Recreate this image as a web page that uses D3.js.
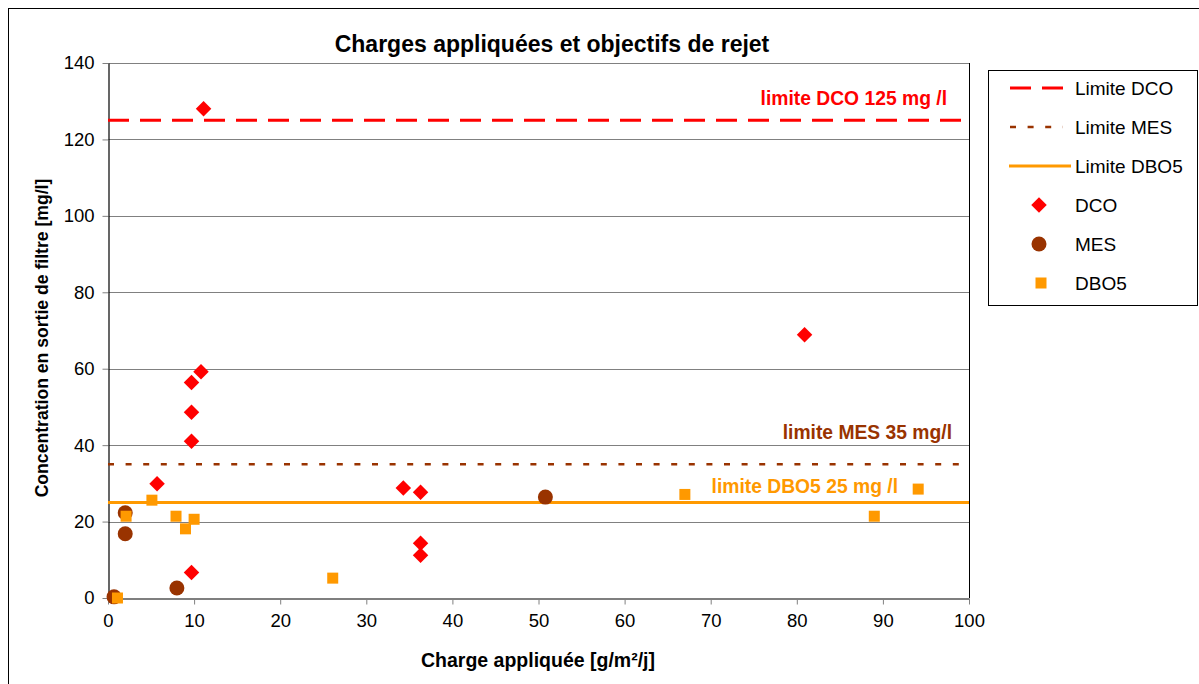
<!DOCTYPE html>
<html lang="fr">
<head>
<meta charset="UTF-8">
<script src="https://cdn.jsdelivr.net/npm/d3@7/dist/d3.min.js"></script>
<title>Charges appliquées et objectifs de rejet</title>
<style>
  * { margin: 0; padding: 0; box-sizing: border-box; }
  body { background: #fff; font-family: "Liberation Sans", Arial, sans-serif; }
  svg { display: block; }
</style>
</head>
<body>
<svg id="chart" width="1199" height="684"></svg>
<script>
  // data
  var dcoX = [11.1, 10.8, 9.7, 9.7, 9.7, 5.7, 9.7, 34.3, 36.3, 36.3, 36.3, 80.9];
  var dcoY = [128, 59.2, 56.4, 48.6, 41.0, 29.9, 6.7, 28.8, 27.7, 14.3, 11.2, 68.9];
  var mesX = [0.7, 2.0, 2.0, 8.0, 50.8];
  var mesY = [0.3, 22.3, 16.8, 2.6, 26.4];
  var dboX = [1.1, 2.1, 5.1, 7.9, 10.0, 9.0, 26.1, 67.0, 89.0, 94.1];
  var dboY = [0, 21.4, 25.6, 21.4, 20.6, 18.1, 5.2, 27.1, 21.4, 28.5];

  var limitNames = ['Limite DCO', 'Limite MES', 'Limite DBO5'];
  var limitValues = [125, 35, 25];
  var limitLabels = ['limite DCO 125 mg /l', 'limite MES 35 mg/l', 'limite DBO5 25 mg /l'];
  var seriesNames = ['DCO', 'MES', 'DBO5'];

  var xTicks = [0, 10, 20, 30, 40, 50, 60, 70, 80, 90, 100];
  var yTicks = [0, 20, 40, 60, 80, 100, 120, 140];

  var red = '#ff0000', brown = '#993300', orange = '#ff9900';
  var limitStyles = [
    { color: red, width: 3, dash: '21,11' },
    { color: brown, width: 2.5, dash: '6,11.6' },
    { color: orange, width: 3, dash: null }
  ];

  var svg = d3.select('#chart');
  var W = 1199, H = 684;

  // outer chart border
  svg.append('rect')
    .attr('x', 8.5).attr('y', 8.5)
    .attr('width', W + 10).attr('height', H + 10)
    .attr('fill', 'none').attr('stroke', '#000').attr('stroke-width', 1);

  var x = d3.scaleLinear().domain([0, 100]).range([108, 969]);
  var y = d3.scaleLinear().domain([0, 140]).range([598, 63]);

  // gridlines
  svg.append('g')
    .selectAll('line')
    .data(yTicks.slice(1))
    .enter().append('line')
    .attr('x1', x(0)).attr('x2', x(100))
    .attr('y1', function (d) { return Math.round(y(d)) + 0.5; })
    .attr('y2', function (d) { return Math.round(y(d)) + 0.5; })
    .attr('stroke', '#808080').attr('stroke-width', 1);

  // right border of plot area
  svg.append('line')
    .attr('x1', Math.round(x(100)) + 0.5).attr('x2', Math.round(x(100)) + 0.5)
    .attr('y1', y(140)).attr('y2', y(0))
    .attr('stroke', '#000');

  // axes
  var xAxis = svg.append('g')
    .attr('transform', 'translate(0,' + (Math.round(y(0)) + 0.5) + ')')
    .call(d3.axisBottom(x).tickValues(xTicks).tickSize(6).tickPadding(9).tickSizeOuter(0));
  var yAxis = svg.append('g')
    .attr('transform', 'translate(' + (Math.round(x(0)) + 0.5) + ',0)')
    .call(d3.axisLeft(y).tickValues(yTicks).tickSize(6).tickPadding(8).tickSizeOuter(0));

  [xAxis, yAxis].forEach(function (g) {
    g.select('.domain').attr('stroke', '#000').attr('stroke-width', 1.2);
    g.selectAll('.tick line').attr('stroke', '#808080');
    g.selectAll('.tick text')
      .attr('fill', '#000')
      .style('font-family', '"Liberation Sans", Arial, sans-serif')
      .style('font-size', '18.5px');
  });

  // limit lines
  svg.append('g')
    .selectAll('line')
    .data(limitValues)
    .enter().append('line')
    .attr('x1', x(0)).attr('x2', x(100))
    .attr('y1', function (d) { return y(d); })
    .attr('y2', function (d) { return y(d); })
    .attr('stroke', function (d, i) { return limitStyles[i].color; })
    .attr('stroke-width', function (d, i) { return limitStyles[i].width; })
    .attr('stroke-dasharray', function (d, i) { return limitStyles[i].dash; });

  // limit annotations
  var labelRight = [947, 952, 898];
  var labelOffset = [-15.5, -25, -9.6];
  svg.append('g')
    .selectAll('text')
    .data(limitLabels)
    .enter().append('text')
    .attr('x', function (d, i) { return labelRight[i]; })
    .attr('y', function (d, i) { return y(limitValues[i]) + labelOffset[i]; })
    .attr('text-anchor', 'end')
    .attr('fill', function (d, i) { return limitStyles[i].color; })
    .style('font-size', '19.3px').style('font-weight', 'bold')
    .text(function (d) { return d; });

  // markers
  var diamond = d3.symbol().type(d3.symbolSquare).size(120);
  function drawDiamond(g, cx, cy) {
    g.append('path')
      .attr('d', diamond())
      .attr('transform', 'translate(' + cx + ',' + cy + ') rotate(45)')
      .attr('fill', red);
  }
  function drawCircle(g, cx, cy) {
    g.append('circle').attr('cx', cx).attr('cy', cy).attr('r', 7.5).attr('fill', brown);
  }
  function drawSquare(g, cx, cy) {
    g.append('rect').attr('x', cx - 5.5).attr('y', cy - 5.5)
      .attr('width', 11).attr('height', 11).attr('fill', orange);
  }

  var pts = svg.append('g');
  dcoX.forEach(function (v, i) { drawDiamond(pts, x(v), y(dcoY[i])); });
  mesX.forEach(function (v, i) { drawCircle(pts, x(v), y(mesY[i])); });
  dboX.forEach(function (v, i) { drawSquare(pts, x(v), y(dboY[i])); });

  // title and axis titles
  svg.append('text')
    .attr('x', 552).attr('y', 52)
    .attr('text-anchor', 'middle')
    .style('font-size', '23px').style('font-weight', 'bold')
    .text('Charges appliquées et objectifs de rejet');

  svg.append('text')
    .attr('x', 538).attr('y', 667)
    .attr('text-anchor', 'middle')
    .style('font-size', '19.5px').style('font-weight', 'bold')
    .text('Charge appliquée [g/m²/j]');

  svg.append('text')
    .attr('transform', 'translate(48,338) rotate(-90)')
    .attr('text-anchor', 'middle')
    .style('font-size', '17.6px').style('font-weight', 'bold')
    .text('Concentration en sortie de filtre [mg/l]');

  // legend
  var legend = svg.append('g');
  legend.append('rect')
    .attr('x', 988.5).attr('y', 70.5)
    .attr('width', 209).attr('height', 235)
    .attr('fill', '#fff').attr('stroke', '#000');

  var rowY = [88, 127, 166, 205, 244, 283];
  limitNames.forEach(function (name, i) {
    var st = limitStyles[i];
    legend.append('line')
      .attr('x1', i === 2 ? 1009 : 1010).attr('x2', i === 2 ? 1071 : 1063)
      .attr('y1', rowY[i]).attr('y2', rowY[i])
      .attr('stroke', st.color).attr('stroke-width', st.width)
      .attr('stroke-dasharray', st.dash);
  });
  drawDiamond(legend, 1039, rowY[3]);
  drawCircle(legend, 1039, rowY[4]);
  drawSquare(legend, 1041, rowY[5]);

  legend.selectAll('text.lg')
    .data(limitNames.concat(seriesNames))
    .enter().append('text')
    .attr('class', 'lg')
    .attr('x', 1075)
    .attr('y', function (d, i) { return rowY[i] + 6.8; })
    .style('font-size', '19px')
    .text(function (d) { return d; });
</script>
</body>
</html>
